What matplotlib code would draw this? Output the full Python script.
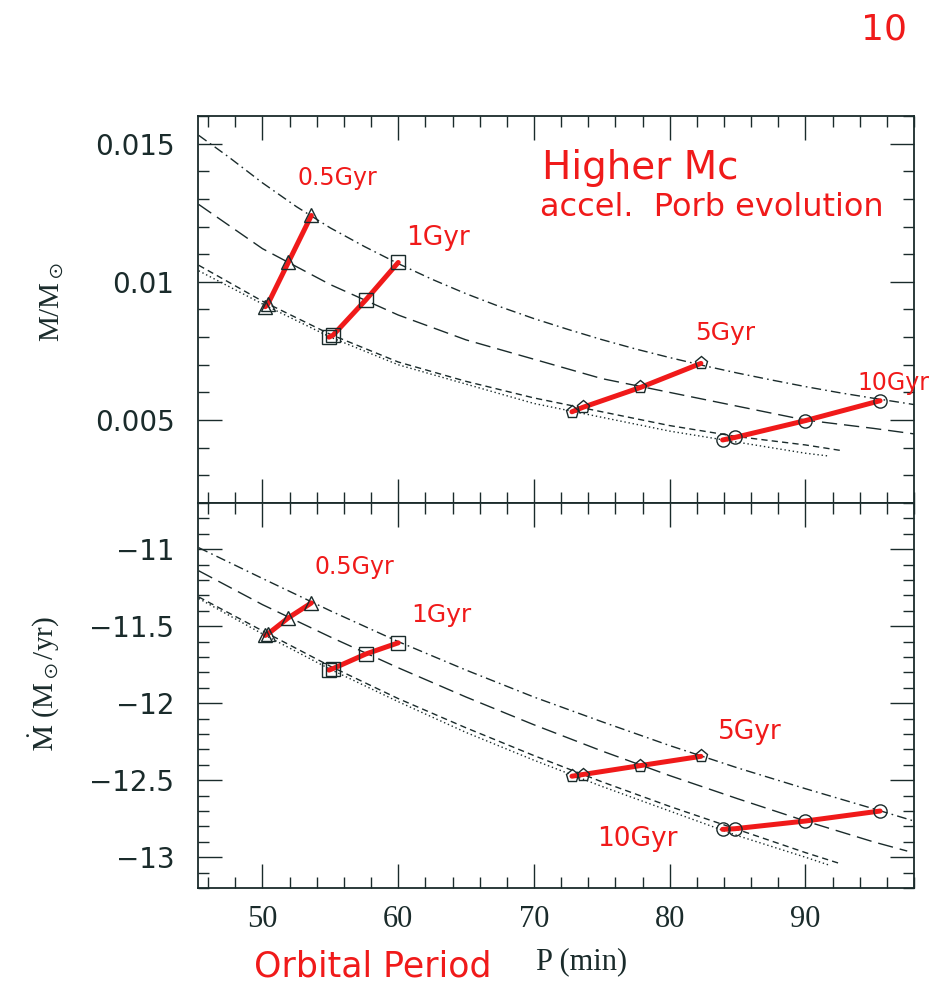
import matplotlib
matplotlib.use("Agg")
import matplotlib.pyplot as plt
from matplotlib.ticker import MultipleLocator

plt.rcParams["mathtext.fontset"] = "stix"

# ---------------- data ----------------
# model curves (orbital period in min) : dot-dash, long dash, short dash, dotted
T_dd = [45.3, 47.5, 50, 52.5, 55, 57.5, 60, 62.5, 65, 67.5, 70, 72.5, 75, 77.5, 80, 82.5, 85, 87.5, 90, 92.5, 95, 97.5, 98]
M_dd = [0.0153, 0.01452, 0.01358, 0.01272, 0.01195, 0.01128, 0.01066, 0.01009, 0.00957, 0.0091, 0.00867, 0.00828,
        0.00791, 0.00757, 0.00726, 0.00697, 0.0067, 0.00645, 0.00621, 0.00599, 0.00579, 0.0056, 0.00556]
T_ld = [45.3, 50, 55, 60, 65, 70, 75, 80, 85, 90, 95, 98]
M_ld = [0.0128, 0.0112, 0.0099, 0.0088, 0.0079, 0.0072, 0.0065, 0.0060, 0.0055, 0.0050, 0.0047, 0.0045]
T_sd = [45.3, 50, 55, 60, 65, 70, 75, 80, 85, 90, 92.6]
M_sd = [0.0106, 0.0093, 0.0081, 0.0071, 0.0064, 0.0058, 0.0053, 0.0048, 0.0044, 0.0041, 0.0039]
T_dt = [45.3, 50, 55, 60, 65, 70, 75, 80, 85, 90, 91.7]
M_dt = [0.0104, 0.0092, 0.0080, 0.0070, 0.0063, 0.0056, 0.0051, 0.0046, 0.0042, 0.0038, 0.0037]

Td_dd = [45.3, 50, 55, 60, 65, 70, 75, 80, 85, 90, 95, 98]
Md_dd = [-10.99, -11.19, -11.40, -11.60, -11.785, -11.96, -12.12, -12.275, -12.42, -12.555, -12.685, -12.765]
Td_ld = [45.3, 50, 55, 60, 65, 70, 75, 80, 85, 90, 95, 97.5]
Md_ld = [-11.14, -11.36, -11.57, -11.77, -11.96, -12.14, -12.31, -12.47, -12.62, -12.765, -12.90, -12.96]
Td_sd = [45.3, 50, 55, 60, 65, 70, 75, 80, 85, 90, 92.5]
Md_sd = [-11.31, -11.53, -11.76, -11.97, -12.16, -12.34, -12.51, -12.67, -12.82, -12.97, -13.04]
Td_dt = [45.3, 50, 55, 60, 65, 70, 75, 80, 85, 90, 91.7]
Md_dt = [-11.32, -11.55, -11.78, -11.99, -12.19, -12.37, -12.54, -12.70, -12.86, -13.00, -13.05]

# age markers, models ordered dotted, short dash, long dash, dot-dash
ages = ["0.5Gyr", "1Gyr", "5Gyr", "10Gyr"]
P_05 = [50.2, 50.4, 51.9, 53.6]
M_05 = [0.0091, 0.0092, 0.0107, 0.0124]
D_05 = [-11.56, -11.55, -11.446, -11.349]
P_1 = [54.9, 55.2, 57.6, 60.0]
M_1 = [0.0080, 0.00807, 0.00934, 0.0107]
D_1 = [-11.785, -11.775, -11.681, -11.608]
P_5 = [72.8, 73.6, 77.85, 82.3]
M_5 = [0.0053, 0.00546, 0.00618, 0.00705]
D_5 = [-12.474, -12.463, -12.405, -12.345]
P_10 = [83.9, 84.8, 90.0, 95.5]
M_10 = [0.00428, 0.00437, 0.00498, 0.0057]
D_10 = [-12.819, -12.815, -12.765, -12.70]

xticks = [50, 60, 70, 80, 90]
yticks_top = [0.005, 0.01, 0.015]
ytl_top = ["0.005", "0.01", "0.015"]
yticks_bot = [-13, -12.5, -12, -11.5, -11]
ytl_bot = ["\u221213", "\u221212.5", "\u221212", "\u221211.5", "\u221211"]

RED = "#f01a1a"
INK = "#1a2b2b"

fig = plt.figure(figsize=(9.51, 9.98), dpi=100)
ax1 = fig.add_axes([0.2082, 0.4960, 0.7529, 0.3878])
ax2 = fig.add_axes([0.2082, 0.1102, 0.7529, 0.3858])

styles = [(0, (7, 3, 1.2, 3)), (0, (11, 5)), (0, (4.5, 3)), (0, (1, 2))]

def curves(ax, sets):
    for (x, y), ls in zip(sets, styles):
        ax.plot(x, y, color=INK, lw=1.0, linestyle=ls, zorder=2)

curves(ax1, [(T_dd, M_dd), (T_ld, M_ld), (T_sd, M_sd), (T_dt, M_dt)])
curves(ax2, [(Td_dd, Md_dd), (Td_ld, Md_ld), (Td_sd, Md_sd), (Td_dt, Md_dt)])

groups = [(P_05, M_05, D_05, "^"), (P_1, M_1, D_1, "s"), (P_5, M_5, D_5, "p"), (P_10, M_10, D_10, "o")]
for P, M, D, mk in groups:
    for ax, Y in ((ax1, M), (ax2, D)):
        ax.plot(P, Y, color=RED, lw=3.6, solid_capstyle="round", zorder=3)
        ax.plot(P, Y, linestyle="none", marker=mk, ms=9.5, mfc="none", mec=INK, mew=1.0, zorder=4)

for ax in (ax1, ax2):
    ax.set_xlim(45.25, 98.0)
    ax.xaxis.set_major_locator(MultipleLocator(10))
    ax.xaxis.set_minor_locator(MultipleLocator(2))
    ax.tick_params(which="both", direction="in", top=True, right=True, colors=INK, width=1.0)
    ax.tick_params(which="major", length=17)
    ax.tick_params(which="minor", length=8)
    for s in ax.spines.values():
        s.set_color(INK)
        s.set_linewidth(1.3)

ax1.set_ylim(0.002, 0.016)
ax1.set_yticks(yticks_top)
ax1.set_yticklabels(ytl_top)
ax1.yaxis.set_minor_locator(MultipleLocator(0.001))
ax1.set_xticks(xticks)
ax1.set_xticklabels([])

ax2.set_ylim(-13.2, -10.7)
ax2.set_yticks(yticks_bot)
ax2.set_yticklabels(ytl_bot)
ax2.yaxis.set_minor_locator(MultipleLocator(0.1))
ax2.set_xticks(xticks)
ax2.set_xticklabels([str(v) for v in xticks], family="Liberation Serif", fontsize=22, color=INK)
ax2.tick_params(axis="x", pad=12)

for ax in (ax1, ax2):
    for lab in ax.get_yticklabels():
        lab.set_family("DejaVu Sans")
        lab.set_fontsize(20)
        lab.set_color(INK)
    ax.tick_params(axis="y", pad=17)

ax1.set_ylabel(r"M/M$_\odot$", family="Liberation Serif", fontsize=21, color=INK)
ax2.set_ylabel(r"$\dot{\mathrm{M}}$ (M$_\odot$/yr)", family="Liberation Serif", fontsize=21, color=INK)
ax1.yaxis.set_label_coords(-0.185, 0.52)
ax2.yaxis.set_label_coords(-0.19, 0.53)
fig.text(0.612, 0.022, "P (min)", family="Liberation Serif", fontsize=22, color=INK, ha="center", va="bottom")

# handwritten annotations
hw = dict(color=RED, family="DejaVu Sans", ha="center", va="center", clip_on=False)
ax1.text(55.5, 0.01374, "0.5Gyr", fontsize=17, **hw)
ax1.text(62.9, 0.0116, "1Gyr", fontsize=19, **hw)
ax1.text(84.1, 0.00814, "5Gyr", fontsize=18, **hw)
ax1.text(96.5, 0.00634, "10Gyr", fontsize=17, **hw)
ax1.text(77.8, 0.01413, "Higher Mc", fontsize=28, **hw)
ax1.text(83.1, 0.0127, "accel.  Porb evolution", fontsize=23, **hw)
ax2.text(56.8, -11.117, "0.5Gyr", fontsize=17, **hw)
ax2.text(63.2, -11.429, "1Gyr", fontsize=18, **hw)
ax2.text(85.9, -12.184, "5Gyr", fontsize=19, **hw)
ax2.text(77.6, -12.884, "10Gyr", fontsize=19, **hw)
fig.text(0.392, 0.032, "Orbital Period", color=RED, family="DejaVu Sans", fontsize=25, ha="center", va="center")
fig.text(0.930, 0.970, "10", color=RED, family="DejaVu Sans", fontsize=26, ha="center", va="center")

fig.savefig("out.png", dpi=100)
